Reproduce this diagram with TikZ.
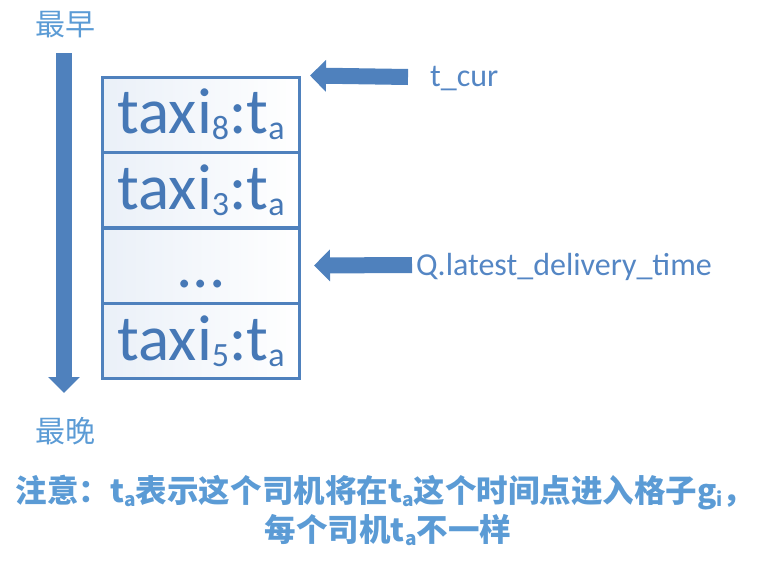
\documentclass[tikz,border=0pt]{standalone}
\usepackage{fontspec}
\setmainfont{Carlito}
\newfontfamily\cjk{Noto Sans CJK SC}
\usetikzlibrary{arrows.meta}
\definecolor{arrowblue}{RGB}{79,129,189}
\definecolor{boxtext}{RGB}{70,120,182}
\definecolor{labelblue}{RGB}{84,134,196}
\definecolor{notetext}{RGB}{91,155,213}
\definecolor{cellleft}{RGB}{234,240,248}
\newcommand{\bsub}[1]{\raisebox{-6pt}{\fontsize{34}{34}\selectfont #1}}
\newcommand{\ssub}[1]{\raisebox{-4pt}{\fontsize{19}{19}\selectfont #1}}
\newcommand{\tsub}{{\bfseries t\ssub{a}}}
\tikzset{
  cell/.style={draw=arrowblue, line width=3pt, left color=cellleft, right color=white,
    minimum width=197pt, minimum height=75pt, inner sep=0pt, text=boxtext,
    font=\fontsize{65}{65}\selectfont},
  bigarrow/.style={draw=arrowblue, line width=16pt,
    -{Triangle[width=31pt,length=16pt]}},
  lbl/.style={text=labelblue, font=\fontsize{32}{32}\selectfont, inner sep=0pt, anchor=west},
  cjklbl/.style={text=notetext, font=\cjk\fontsize{30}{30}\selectfont, inner sep=0pt},
  note/.style={text=notetext, font=\cjk\bfseries\fontsize{31.5}{31.5}\selectfont, inner sep=0pt}
}
\begin{document}
\begin{tikzpicture}[x=1pt,y=-1pt]
\useasboundingbox (0,0) rectangle (770,568);
% cells
\node[cell] (c1) at (201,114.5) {taxi\bsub{8}:t\bsub{a}};
\node[cell] (c2) at (201,190) {taxi\bsub{3}:t\bsub{a}};
\node[cell] (c3) at (201,265.5) {\raisebox{-22pt}[0pt][0pt]{...}};
\node[cell] (c4) at (201,341) {taxi\bsub{5}:t\bsub{a}};
% vertical arrow
\node[cjklbl] (early) at (65,25) {最早};
\node[cjklbl] (late) at (65,431) {最晚};
\coordinate (vtop) at (64,53);
\coordinate (vbot) at (64,393);
\draw[bigarrow] (vtop) -- (vbot);
% pointer arrows
\node[lbl] (tcur) at (430,79) {t\_cur};
\node[lbl] (qldt) at (416,267) {Q.latest\_delivery\_time};
\coordinate (a1s) at (408,77);
\coordinate (a2s) at (412,265);
\draw[bigarrow] (a1s) -- ([xshift=9pt]c1.north east);
\draw[bigarrow] (a2s) -- ([xshift=13pt]c3.east);
% note
\node[note] (n1) at (385,493) {注意：\tsub 表示这个司机将在\tsub 这个时间点进入格子{\bfseries g\ssub{i}}，};
\node[note] (n2) at (388,530) {每个司机\tsub 不一样};
\end{tikzpicture}
\end{document}
